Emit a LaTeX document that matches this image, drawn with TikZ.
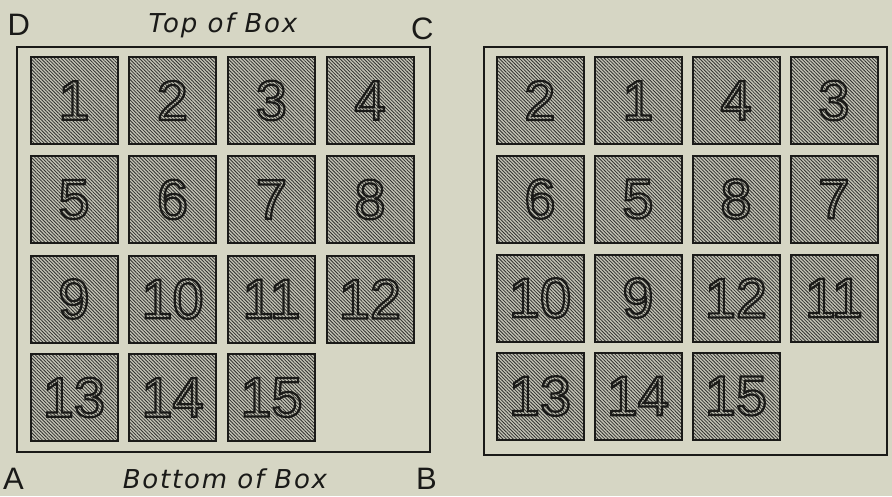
\documentclass[tikz,border=0pt]{standalone}
\usepackage{fontspec}
\setmainfont{Liberation Sans}
\newfontfamily\captionfont{DejaVu Sans}
\usetikzlibrary{patterns.meta}
\definecolor{paper}{HTML}{D6D6C4}
\definecolor{ink}{HTML}{1A1A18}
\definecolor{tilebg}{HTML}{C4C4B6}
\newcommand{\outlinetext}[1]{\special{pdf:literal direct 1 Tr 2.2 w}#1\special{pdf:literal direct 0 Tr}}
\tikzset{
  frame/.style={draw=ink, line width=2.6pt, inner sep=0pt},
  tile/.style={draw=ink, line width=2pt, minimum width=87pt, minimum height=87pt, inner sep=0pt,
    preaction={fill=tilebg},
    pattern={Lines[angle=-45,distance=2.4pt,line width=0.8pt]}, pattern color=ink!90,
    font=\fontsize{56}{56}\selectfont, text=ink},
  corner/.style={font=\fontsize{31}{31}\selectfont, text=ink, inner sep=0pt, anchor=base west},
  caption/.style={font=\fontsize{26}{26}\selectfont\captionfont\itshape\addfontfeature{LetterSpace=7}, text=ink, inner sep=0pt, anchor=base}
}
\begin{document}
\begin{tikzpicture}[x=1pt,y=-1pt]
\fill[paper] (0,0) rectangle (892,496);
\useasboundingbox (0,0) rectangle (892,496);
% frames
\node[frame, minimum width=413pt, minimum height=405pt] (leftbox) at (223.5,249.5) {};
\node[frame, minimum width=403pt, minimum height=408pt] (rightbox) at (685.5,251) {};
% left tiles
\node[tile] (L1)  at (74,100.5)   {\outlinetext{1}};
\node[tile] (L2)  at (172.5,100.5) {\outlinetext{2}};
\node[tile] (L3)  at (271.5,100.5) {\outlinetext{3}};
\node[tile] (L4)  at (370,100.5)  {\outlinetext{4}};
\node[tile] (L5)  at (74,199.5)   {\outlinetext{5}};
\node[tile] (L6)  at (172.5,199.5) {\outlinetext{6}};
\node[tile] (L7)  at (271.5,199.5) {\outlinetext{7}};
\node[tile] (L8)  at (370,199.5)  {\outlinetext{8}};
\node[tile] (L9)  at (74,299)     {\outlinetext{9}};
\node[tile] (L10) at (172.5,299)  {\outlinetext{10}};
\node[tile] (L11) at (271.5,299)  {\outlinetext{11}};
\node[tile] (L12) at (370,299)    {\outlinetext{12}};
\node[tile] (L13) at (74,397.5)   {\outlinetext{13}};
\node[tile] (L14) at (172.5,397.5) {\outlinetext{14}};
\node[tile] (L15) at (271.5,397.5) {\outlinetext{15}};
% right tiles
\node[tile] (R2)  at (540,100.5) {\outlinetext{2}};
\node[tile] (R1)  at (638,100.5) {\outlinetext{1}};
\node[tile] (R4)  at (736,100.5) {\outlinetext{4}};
\node[tile] (R3)  at (834,100.5) {\outlinetext{3}};
\node[tile] (R6)  at (540,199)   {\outlinetext{6}};
\node[tile] (R5)  at (638,199)   {\outlinetext{5}};
\node[tile] (R8)  at (736,199)   {\outlinetext{8}};
\node[tile] (R7)  at (834,199)   {\outlinetext{7}};
\node[tile] (R10) at (540,298)   {\outlinetext{10}};
\node[tile] (R9)  at (638,298)   {\outlinetext{9}};
\node[tile] (R12) at (736,298)   {\outlinetext{12}};
\node[tile] (R11) at (834,298)   {\outlinetext{11}};
\node[tile] (R13) at (540,396)   {\outlinetext{13}};
\node[tile] (R14) at (638,396)   {\outlinetext{14}};
\node[tile] (R15) at (736,396)   {\outlinetext{15}};
% labels
\node[corner] (lD) at (7.5,35) {D};
\node[corner] (lC) at (411,39) {C};
\node[corner] (lA) at (3,489) {A};
\node[corner] (lB) at (416,489) {B};
\node[caption] (top) at (223,32) {Top of Box};
\node[caption] (bottom) at (225,488) {Bottom of Box};
\end{tikzpicture}
\end{document}
